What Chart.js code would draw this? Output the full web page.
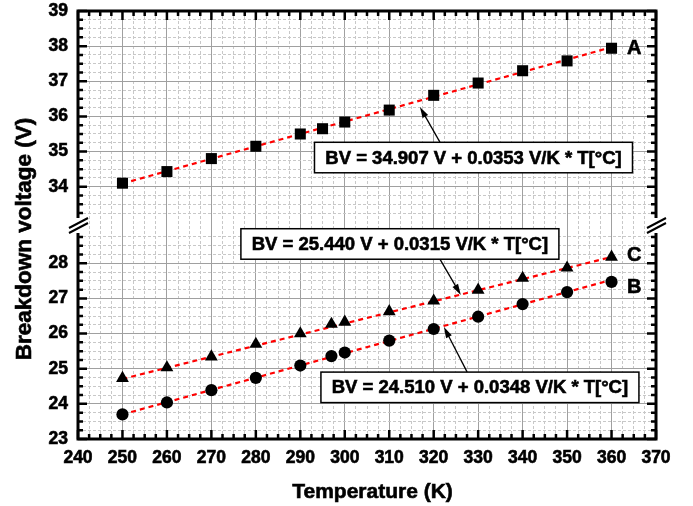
<!DOCTYPE html>
<html><head><meta charset="utf-8">
<script src="https://cdn.jsdelivr.net/npm/chart.js@4.4.0/dist/chart.umd.min.js"></script>
<style>html,body{margin:0;padding:0;background:#fff;}#wrap{width:693px;height:506px;position:relative;}</style>
</head><body><div id="wrap"><canvas id="c"></canvas></div>
<script>
// ---- data ----
const tempA  = [250,260,270,280,290,295,300,310,320,330,340,350,360];
const bvA    = [34.10,34.43,34.80,35.15,35.50,35.65,35.84,36.18,36.60,36.95,37.30,37.58,37.94];
const tempBC = [250,260,270,280,290,297,300,310,320,330,340,350,360];
const bvB    = [23.70,24.04,24.39,24.74,25.09,25.36,25.46,25.80,26.13,26.48,26.84,27.18,27.47];
const bvC    = [24.73,25.03,25.34,25.70,26.00,26.27,26.33,26.63,26.93,27.24,27.58,27.87,28.18];
const fitT   = [250,360];
const fitA   = [34.09,37.97];
const fitB   = [23.70,27.53];
const fitC   = [24.71,28.18];
const xTickLabels     = [240,250,260,270,280,290,300,310,320,330,340,350,360,370];
const yTickLabelsUp   = [34,35,36,37,38,39];
const yTickLabelsLow  = [23,24,25,26,27,28];
const seriesNames = ['A','B','C'];
const equations = ['BV = 34.907 V + 0.0353 V/K * T[°C]','BV = 25.440 V + 0.0315 V/K * T[°C]','BV = 24.510 V + 0.0348 V/K * T[°C]'];
const xTitle = 'Temperature (K)';
const yTitle = 'Breakdown voltage (V)';

const FONT = "'Liberation Sans', Arial, sans-serif";
const pts = (xs, ys) => xs.map((x,i)=>({x, y: ys[i]}));
const isMajor = (v, step) => Math.abs(v/step - Math.round(v/step)) < 1e-6;

function yAxis(min, max, labels, weight) {
  return {
    type:'linear', position:'left', stack:'v', stackWeight:1, weight,
    min, max,
    ticks:{stepSize:0.25, includeBounds:false, autoSkip:false, padding:10, color:'#000',
      textStrokeColor:'#000', textStrokeWidth:0.6,
      font:{family:FONT, size:17.5, weight:'bold'},
      callback: v => labels.includes(v) ? String(v) : ''},
    grid:{drawTicks:false, lineWidth:1,
      color: c => {const v=c.tick.value; if (v===29||v===33) return 'rgba(0,0,0,0)'; return isMajor(v,1)?'#a0a0a0':'#c8c8c8';}},
    border:{display:false, dash: c => (c.tick && isMajor(c.tick.value,1)) ? [] : [3,2]},
    afterFit: s => { s.width = 78; s.paddingTop = 0; s.paddingBottom = 0; }
  };
}

function boldText(ctx, t, x, y) {
  ctx.lineWidth = 0.6; ctx.strokeStyle = '#000';
  ctx.strokeText(t, x, y); ctx.fillText(t, x, y);
}

const decor = {
  id:'decor',
  afterDraw(chart){
    const ctx = chart.ctx, a = chart.chartArea;
    const sx = chart.scales.x, yT = chart.scales.yTop, yB = chart.scales.yBot;
    ctx.save();
    // frame
    ctx.strokeStyle = '#000'; ctx.lineWidth = 3;
    ctx.strokeRect(a.left, a.top, a.right-a.left, a.bottom-a.top);
    // ticks (inward)
    ctx.lineWidth = 2.5; ctx.beginPath();
    sx.ticks.forEach(t => {
      const p = sx.getPixelForValue(t.value), L = isMajor(t.value,10) ? 9 : 5;
      ctx.moveTo(p, a.bottom); ctx.lineTo(p, a.bottom - L);
      ctx.moveTo(p, a.top); ctx.lineTo(p, a.top + L);
    });
    [[yT, v => v > 33], [yB, v => v < 29]].forEach(([s, ok]) => {
      s.ticks.forEach(t => {
        if (!ok(t.value)) return;
        const p = s.getPixelForValue(t.value), L = isMajor(t.value,1) ? 9 : 5;
        ctx.moveTo(a.left, p); ctx.lineTo(a.left + L, p);
        ctx.moveTo(a.right, p); ctx.lineTo(a.right - L, p);
      });
    });
    ctx.stroke();
    // axis break
    const yc = (yT.getPixelForValue(33) + yB.getPixelForValue(29)) / 2;
    [a.left, a.right].forEach(x => {
      ctx.fillStyle = '#fff';
      ctx.fillRect(x-3, yc-7, 6, 15);
      ctx.strokeStyle = '#000'; ctx.lineWidth = 2;
      ctx.beginPath();
      ctx.moveTo(x-9, yc+3); ctx.lineTo(x+10, yc-7);
      ctx.moveTo(x-9, yc+8); ctx.lineTo(x+10, yc-2);
      ctx.stroke();
    });
    // equation boxes
    const boxes = [
      {x:328.95, y:34.83, s:yT, text:equations[0]},
      {x:312.4,  y:28.55, s:yB, text:equations[1]},
      {x:330.4,  y:24.47, s:yB, text:equations[2]}
    ];
    // arrows: [tailX, tailY, headX, headY, scale]
    const arrows = [
      [321.4,35.27,316.9,36.27,yT],
      [321.4,28.12,326.1,27.10,yB],
      [327.5,24.91,322.3,26.19,yB]
    ];
    ctx.strokeStyle = '#000'; ctx.fillStyle = '#000'; ctx.lineWidth = 1.3;
    arrows.forEach(([tx,ty,hx,hy,s]) => {
      const x0 = sx.getPixelForValue(tx), y0 = s.getPixelForValue(ty);
      const x1 = sx.getPixelForValue(hx), y1 = s.getPixelForValue(hy);
      const ang = Math.atan2(y1-y0, x1-x0), L = 11, W = 3.2;
      ctx.beginPath(); ctx.moveTo(x0,y0);
      ctx.lineTo(x1 - Math.cos(ang)*L*0.8, y1 - Math.sin(ang)*L*0.8); ctx.stroke();
      ctx.beginPath(); ctx.moveTo(x1,y1);
      ctx.lineTo(x1 - Math.cos(ang)*L - Math.sin(ang)*W, y1 - Math.sin(ang)*L + Math.cos(ang)*W);
      ctx.lineTo(x1 - Math.cos(ang)*L + Math.sin(ang)*W, y1 - Math.sin(ang)*L - Math.cos(ang)*W);
      ctx.closePath(); ctx.fill();
    });
    ctx.font = 'bold 18.5px ' + FONT;
    ctx.textAlign = 'center'; ctx.textBaseline = 'middle';
    boxes.forEach(b => {
      const cx = sx.getPixelForValue(b.x), cy = b.s.getPixelForValue(b.y);
      const w = 318, h = 30.5;
      ctx.fillStyle = '#fff'; ctx.fillRect(cx-w/2, cy-h/2, w, h);
      ctx.strokeStyle = '#000'; ctx.lineWidth = 1.5; ctx.strokeRect(cx-w/2, cy-h/2, w, h);
      ctx.fillStyle = '#000'; boldText(ctx, b.text, cx, cy+1);
    });
    // series letters
    ctx.font = 'bold 20px ' + FONT;
    [[seriesNames[0],365.1,37.95,yT],[seriesNames[1],365.1,27.35,yB],[seriesNames[2],365.1,28.24,yB]].forEach(([t,x,y,s]) => {
      boldText(ctx, t, sx.getPixelForValue(x), s.getPixelForValue(y)+1);
    });
    // axis titles
    ctx.font = 'bold 21px ' + FONT;
    ctx.textBaseline = 'alphabetic';
    boldText(ctx, xTitle, 372.5, 498);
    ctx.save();
    ctx.translate(31, 239); ctx.rotate(-Math.PI/2);
    ctx.font = 'bold 22.5px ' + FONT;
    boldText(ctx, yTitle, 0, 0);
    ctx.restore();
    ctx.restore();
  }
};

const fitStyle = {showLine:true, borderColor:'#ff0000', borderWidth:2.2, borderDash:[5,4], pointRadius:0, fill:false, order:2};
const mk = {backgroundColor:'#000', borderColor:'#000', borderWidth:0, showLine:false, order:1};

new Chart(document.getElementById('c'), {
  type:'scatter',
  data:{datasets:[
    Object.assign({label:'fit A', data:pts(fitT,fitA), yAxisID:'yTop'}, fitStyle),
    Object.assign({label:'fit B', data:pts(fitT,fitB), yAxisID:'yBot'}, fitStyle),
    Object.assign({label:'fit C', data:pts(fitT,fitC), yAxisID:'yBot'}, fitStyle),
    Object.assign({label:seriesNames[0], data:pts(tempA,bvA), yAxisID:'yTop', pointStyle:'rect', pointRadius:7.8}, mk),
    Object.assign({label:seriesNames[1], data:pts(tempBC,bvB), yAxisID:'yBot', pointStyle:'circle', pointRadius:6.1}, mk),
    Object.assign({label:seriesNames[2], data:pts(tempBC,bvC), yAxisID:'yBot', pointStyle:'triangle', pointRadius:7.4}, mk)
  ]},
  options:{
    responsive:true, maintainAspectRatio:false, animation:false,
    layout:{padding:{top:11, right:37, left:0, bottom:0}},
    plugins:{legend:{display:false}, tooltip:{enabled:false}},
    scales:{
      x:{type:'linear', position:'bottom', min:240, max:370,
        ticks:{stepSize:2.5, includeBounds:false, autoSkip:false, maxRotation:0, minRotation:0, padding:9, color:'#000',
          textStrokeColor:'#000', textStrokeWidth:0.6,
          font:{family:FONT, size:17.5, weight:'bold'},
          callback: v => xTickLabels.includes(v) ? String(v) : ''},
        grid:{drawTicks:false, lineWidth:1, color: c => isMajor(c.tick.value,10)?'#a0a0a0':'#c8c8c8'},
        border:{display:false, dash: c => (c.tick && isMajor(c.tick.value,10)) ? [] : [3,2]},
        afterFit: s => { s.height = 67; s.paddingLeft = 0; s.paddingRight = 0; }
      },
      yTop: yAxis(32.91, 39, yTickLabelsUp, 2),
      yBot: yAxis(23, 29.09, yTickLabelsLow, 1)
    }
  },
  plugins:[decor]
});
</script></body></html>
